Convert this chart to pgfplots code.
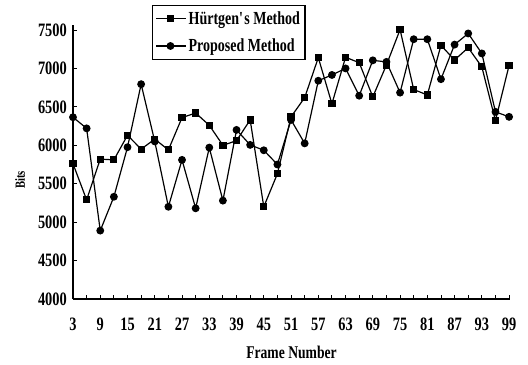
\documentclass[border=0pt]{standalone}
\usepackage{fontspec}
\setmainfont{Liberation Serif}[FakeStretch=0.76]
\usepackage{pgfplots}
\pgfplotsset{compat=1.18}
\begin{document}
\begin{tikzpicture}
\begin{axis}[
  name=ax,
  scale only axis,
  width=437bp, height=274bp,
  xmin=3, xmax=99.2,
  ymin=4000, ymax=7565,
  axis lines*=left,
  axis line style={line width=1.2pt},
  xtick={3,9,...,99},
  minor xtick={6,12,...,96},
  ytick={4000,4500,...,7500},
  tick align=inside,
  major tick length=4bp,
  minor tick length=4bp,
  tick style={line width=0.9pt,black},
  /pgf/number format/assume math mode=true,
  /pgf/number format/set thousands separator={},
  ticklabel style={font=\fontsize{19}{21}\selectfont\bfseries},
  xticklabel style={anchor=center, yshift=-25bp},
  yticklabel style={anchor=east, xshift=-6bp, inner sep=0pt},
  xlabel={Frame Number},
  ylabel={Bits},
  every axis x label/.style={at={(rel axis cs:0.5,0)}, anchor=center, yshift=-53bp,
    font=\fontsize{18}{20}\selectfont\bfseries},
  every axis y label/.style={at={(rel axis cs:0,0.434)}, anchor=center, rotate=90, yshift=53bp,
    font=\fontsize{14}{16}\selectfont\bfseries},
  legend style={at={(rel axis cs:0.181,1.073)}, anchor=north west,
    draw=black, line width=1.2pt, inner xsep=3bp, inner ysep=4bp,
    font=\fontsize{18.5}{20}\selectfont\bfseries,
    row sep=9bp, cells={anchor=west}},
  legend cell align=left,
  legend image code/.code={\draw[#1, mark repeat=2, mark phase=2] plot coordinates {(0cm,0cm) (0.5cm,0cm) (1.05cm,0cm)};},
  clip=false,
]
\addplot[black, line width=1.2pt, mark=square*, mark size=3bp, mark options={solid}] coordinates {
(3,5760) (6,5290) (9,5820) (12,5810) (15,6130) (18,5950) (21,6080) (24,5940)
(27,6360) (30,6420) (33,6260) (36,6000) (39,6060) (42,6330) (45,5200) (48,5630)
(51,6370) (54,6620) (57,7140) (60,6540) (63,7145) (66,7075) (69,6630) (72,7045)
(75,7505) (78,6725) (81,6655) (84,7300) (87,7110) (90,7270) (93,7020) (96,6320)
(99,7040)};
\addlegendentry{Hürtgen\textquotesingle s Method}
\addplot[black, line width=1.2pt, mark=*, mark size=3.3bp, mark options={solid}] coordinates {
(3,6365) (6,6220) (9,4890) (12,5330) (15,5975) (18,6795) (21,6050) (24,5200)
(27,5810) (30,5180) (33,5970) (36,5280) (39,6200) (42,6005) (45,5935) (48,5750)
(51,6330) (54,6025) (57,6840) (60,6915) (63,7000) (66,6645) (69,7105) (72,7085)
(75,6685) (78,7380) (81,7380) (84,6860) (87,7310) (90,7455) (93,7195) (96,6435)
(99,6370)};
\addlegendentry{Proposed Method}
\end{axis}
\pgfresetboundingbox
\path[use as bounding box] ([shift={(-73bp,-66bp)}]ax.south west) rectangle ([shift={(18bp,25bp)}]ax.north east);
\end{tikzpicture}
\end{document}
